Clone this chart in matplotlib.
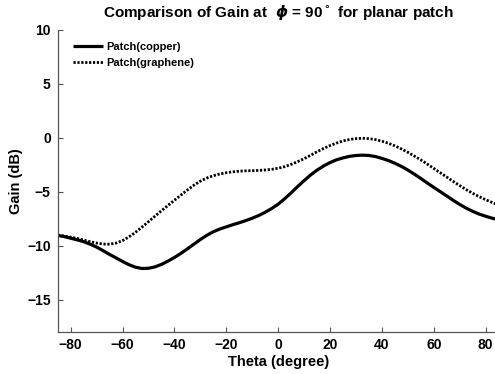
import matplotlib
matplotlib.use("Agg")
import matplotlib.pyplot as plt

plt.rcParams['font.family'] = ['Liberation Sans', 'DejaVu Sans']
plt.rcParams['font.weight'] = 'bold'
plt.rcParams['mathtext.fontset'] = 'dejavusans'

# Elevation angle (degrees), 2.5 degree steps
theta = [-85, -82.5, -80, -77.5, -75, -72.5, -70, -67.5, -65, -62.5, -60,
         -57.5, -55, -52.5, -50, -47.5, -45, -42.5, -40, -37.5, -35, -32.5,
         -30, -27.5, -25, -22.5, -20, -17.5, -15, -12.5, -10, -7.5, -5, -2.5,
         0, 2.5, 5, 7.5, 10, 12.5, 15, 17.5, 20, 22.5, 25, 27.5, 30, 32.5,
         35, 37.5, 40, 42.5, 45, 47.5, 50, 52.5, 55, 57.5, 60, 62.5, 65,
         67.5, 70, 72.5, 75, 77.5, 80, 82.5, 85]

# Gain (dB) of the copper patch
gain_copper = [-9.05, -9.15, -9.3, -9.45, -9.62, -9.85, -10.12, -10.45, -10.8,
               -11.12, -11.45, -11.75, -11.98, -12.1, -12.08, -11.95, -11.72,
               -11.42, -11.08, -10.7, -10.28, -9.85, -9.42, -9.03, -8.7,
               -8.45, -8.25, -8.05, -7.87, -7.67, -7.45, -7.2, -6.9, -6.55,
               -6.15, -5.65, -5.1, -4.52, -3.97, -3.45, -3.0, -2.62, -2.3,
               -2.05, -1.87, -1.73, -1.65, -1.62, -1.65, -1.75, -1.92, -2.12,
               -2.37, -2.66, -3.0, -3.38, -3.78, -4.2, -4.6, -5.0, -5.4, -5.8,
               -6.18, -6.52, -6.82, -7.07, -7.27, -7.45, -7.6]

# Gain (dB) of the graphene patch
gain_graphene = [-9.0, -9.1, -9.2, -9.32, -9.47, -9.62, -9.75, -9.84, -9.85,
                 -9.75, -9.52, -9.17, -8.75, -8.27, -7.77, -7.26, -6.76,
                 -6.27, -5.79, -5.31, -4.84, -4.4, -4.02, -3.73, -3.52, -3.36,
                 -3.24, -3.16, -3.1, -3.07, -3.05, -3.03, -2.99, -2.93, -2.83,
                 -2.68, -2.47, -2.22, -1.94, -1.63, -1.3, -1.0, -0.73, -0.5,
                 -0.3, -0.17, -0.09, -0.06, -0.09, -0.18, -0.33, -0.52, -0.76,
                 -1.04, -1.36, -1.7, -2.06, -2.45, -2.85, -3.25, -3.65, -4.05,
                 -4.44, -4.81, -5.15, -5.46, -5.74, -6.0, -6.24]

xticks = [-80, -60, -40, -20, 0, 20, 40, 60, 80]
yticks = [-15, -10, -5, 0, 5, 10]

W, H = 495, 374
fig = plt.figure(figsize=(W / 100, H / 100), dpi=100)
ax = fig.add_axes([57.7 / W, (H - 332.3) / H, 441.0 / W, 302.8 / H])

ax.plot(theta, gain_copper, color='black', lw=2.3, solid_capstyle='butt',
        solid_joinstyle='round', label='Patch(copper)')
ax.plot(theta, gain_graphene, color='black', lw=2.0,
        linestyle=(0, (0.8, 0.6)), dash_capstyle='butt',
        label='Patch(graphene)')

ax.set_xlim(-85, 85)
ax.set_ylim(-18, 10)
ax.set_xticks(xticks)
ax.set_yticks(yticks)

for side in ('top', 'right'):
    ax.spines[side].set_visible(False)
for side in ('left', 'bottom'):
    ax.spines[side].set_color('#555555')
    ax.spines[side].set_linewidth(0.9)

ax.tick_params(direction='in', length=3.5, width=0.8, color='#555555',
               labelsize=10, pad=5)
ax.tick_params(axis='x', pad=4)
for lab in ax.get_xticklabels() + ax.get_yticklabels():
    lab.set_fontweight('bold')

ax.set_xlabel('Theta (degree)', fontsize=10.5, fontweight='bold', labelpad=2)
ax.set_ylabel('Gain (dB)', fontsize=10.5, fontweight='bold', labelpad=3)
ax.set_title(r'Comparison of Gain at  $\phi$ = 90$^\circ$ for planar patch',
             fontsize=11, fontweight='bold', pad=9)

leg = ax.legend(loc='upper left', bbox_to_anchor=(0.035, 0.958), frameon=False,
                fontsize=8, handlelength=2.7, handletextpad=0.3,
                labelspacing=0.5, borderaxespad=0.0, borderpad=0.0)
for t in leg.get_texts():
    t.set_fontweight('bold')

fig.savefig('out.png', dpi=100, facecolor='white')
